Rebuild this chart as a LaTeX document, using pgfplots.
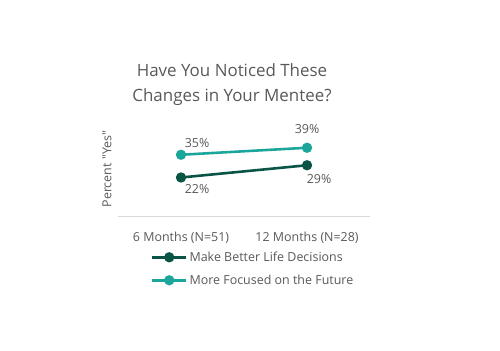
\documentclass[border=0pt]{standalone}
\usepackage{pgfplots}
\pgfplotsset{compat=1.18}
\usepackage{pgfplotstable}
\usepackage{fontspec}
\setmainfont{Open Sans}[Ligatures=TeXOff]
\definecolor{darkg}{RGB}{10,84,70}
\definecolor{tealc}{RGB}{26,166,154}
\definecolor{txt}{RGB}{89,89,89}
\definecolor{axl}{RGB}{217,217,217}
\newcommand{\fs}{\fontsize{12.5}{15}\selectfont}
\pgfplotstableread{
x y
0 22
1 29
}\better
\pgfplotstableread{
x y
0 35
1 39
}\future
\begin{document}
\begin{tikzpicture}[x=1bp,y=1bp]
\path (0,0) rectangle (500,350);
\node[text=txt,font=\fontsize{17}{25}\selectfont,align=center] at (232,265.5) {Have You Noticed These\\Changes in Your Mentee?};
\node[text=txt,font=\fs,rotate=90] at (107,181) {Percent "Yes"};
\begin{axis}[
  at={(118bp,134bp)}, anchor=south west,
  scale only axis, width=252bp, height=105bp,
  xmin=-0.5, xmax=1.5, ymin=0, ymax=60,
  axis y line=none, axis x line*=bottom,
  x axis line style={axl, line width=0.8pt, -},
  xtick={0,1}, xticklabels={6 Months (N=51),12 Months (N=28)},
  xtick style={draw=none},
  ticklabel style={text=txt,font=\fs},
  xticklabel style={yshift=-13bp},
  clip=false,
  legend style={at={(0.13,-0.32)}, anchor=north west, draw=none, fill=none,
    font=\fs, text=txt, row sep=8bp,
    inner sep=0pt, cells={anchor=west}},
  legend cell align=left,
  legend image code/.code={\draw[mark repeat=2,mark phase=2,#1] plot coordinates {(0bp,0bp) (17bp,0bp) (34bp,0bp)};},
]
\addplot[darkg, line width=2.6pt, mark=*, mark size=3.8pt, mark options={solid}] table[x=x,y=y] {\better};
\addlegendentry{Make Better Life Decisions}
\addplot[tealc, line width=2.6pt, mark=*, mark size=3.8pt, mark options={solid}] table[x=x,y=y] {\future};
\addlegendentry{More Focused on the Future}
\begin{scope}[every node/.style={text=txt,font=\fs}]
\node[xshift=16bp,yshift=-12bp] at (axis cs:0,22) {22\%};
\node[xshift=12bp,yshift=-14bp] at (axis cs:1,29) {29\%};
\node[xshift=16bp,yshift=12bp] at (axis cs:0,35) {35\%};
\node[xshift=0bp,yshift=19bp] at (axis cs:1,39) {39\%};
\end{scope}
\end{axis}
\end{tikzpicture}
\end{document}
